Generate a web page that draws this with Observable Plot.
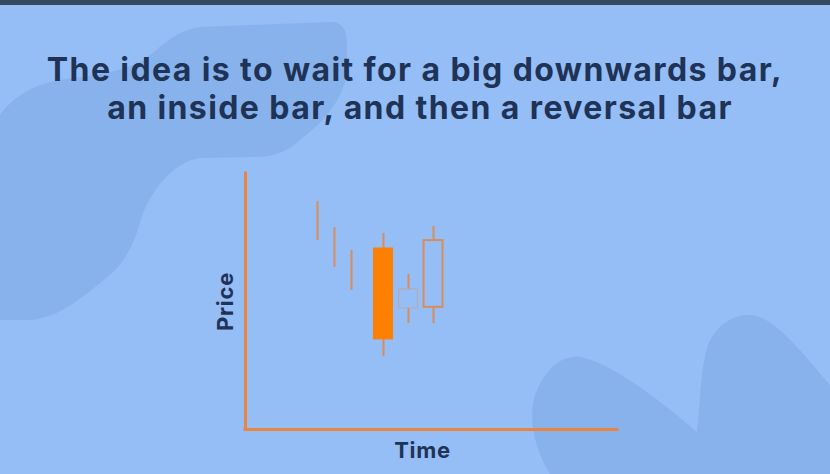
<!DOCTYPE html>
<html>
<head>
<meta charset="utf-8">
<script src="https://cdn.jsdelivr.net/npm/d3@7"></script>
<script src="https://cdn.jsdelivr.net/npm/@observablehq/plot@0.6"></script>
<style>
  html, body { margin: 0; padding: 0; }
  body { width: 830px; height: 474px; overflow: hidden; background: #95bdf6; font-family: Inter, Lato, sans-serif; }
  #stage { position: relative; width: 830px; height: 474px; }
  #bg { position: absolute; left: 0; top: 0; }
  #title { position: absolute; left: 0; top: 51px; width: 830px; text-align: center; color: #1e3356;
           font-weight: 700; font-size: 32px; line-height: 38px; letter-spacing: 1.4px; }
  #title .l2 { position: relative; left: 5px; }
  #chart { position: absolute; left: 0; top: 160px; }
</style>
</head>
<body>
<div id="stage">
  <svg id="bg" width="830" height="474">
    <rect x="0" y="0" width="830" height="5" fill="#34495b"/>
    <path fill="#88b2ec" d="M0,115 C10,100 30,85 60,80 C85,76 115,74 140,62 C160,50 170,32 200,27 L330,22 C343,22 347,30 347,45 L347,70 C345,100 320,125 300,140 C290,150 275,157 255,157 L200,158 C175,162 155,185 143,213 C136,235 132,255 110,275 C85,295 60,318 30,320 L0,320 Z"/>
    <path fill="#88b2ec" d="M550,474 C535,450 528,420 535,395 C545,370 560,355 580,357 C610,362 660,400 697,432 C700,410 700,370 708,345 C718,322 735,314 752,315 C775,318 800,350 830,385 L830,474 Z"/>
  </svg>
  <div id="title">The idea is to wait for a big downwards bar,<br><span class="l2">an inside bar, and then a reversal bar</span></div>
  <div id="chart"></div>
</div>
<script>
// Candles (time index and prices on a 0-100 scale)
const times  = [4.26, 5.26, 6.27, 8.16, 9.64, 11.12];
const highs  = [89.1, 78.9, 69.9, 76.6, 60.5, 79.3];
const lows   = [73.8, 63.3, 54.3, 28.5, 41.4, 41.4];
const opens  = [null, null, null, 70.7, 54.7, 47.7];
const closes = [null, null, null, 35.2, 47.3, 73.8];
const kinds  = ["line", "line", "line", "big", "inside", "reversal"];

const xLabel = "Time";
const yLabel = "Price";

const candles = times.map((t, i) => ({t, high: highs[i], low: lows[i], open: opens[i], close: closes[i], kind: kinds[i]}));
const bodies = candles.filter(d => d.open != null);

const HALF = 0.56;
const BG = "#95bdf6";
const AXIS = "#e8853e";
const WICK = "#d98d5c";

const chart = Plot.plot({
  width: 830,
  height: 314,
  marginLeft: 245,
  marginRight: 213,
  marginTop: 13,
  marginBottom: 45,
  style: {background: "transparent", fontFamily: "Inter, Lato, sans-serif", overflow: "visible", letterSpacing: "0.7px"},
  x: {domain: [0, 22], axis: null},
  y: {domain: [0, 100], axis: null},
  marks: [
    Plot.ruleY([0], {stroke: AXIS, strokeWidth: 3, strokeLinecap: "square"}),
    Plot.ruleX([0], {stroke: AXIS, strokeWidth: 3, strokeLinecap: "square"}),
    Plot.ruleX(candles, {x: "t", y1: "low", y2: "high", stroke: WICK, strokeWidth: 2}),
    Plot.rect(bodies.filter(d => d.kind === "big"), {
      x1: d => d.t - HALF, x2: d => d.t + HALF, y1: "open", y2: "close",
      fill: "#ff7f00", stroke: "#ff7f00", strokeWidth: 1
    }),
    Plot.rect(bodies.filter(d => d.kind === "inside"), {
      x1: d => d.t - HALF, x2: d => d.t + HALF, y1: "open", y2: "close",
      fill: BG, stroke: "#b9a8a8", strokeWidth: 1
    }),
    Plot.rect(bodies.filter(d => d.kind === "reversal"), {
      x1: d => d.t - HALF, x2: d => d.t + HALF, y1: "open", y2: "close",
      fill: BG, stroke: WICK, strokeWidth: 2
    }),
    Plot.text([yLabel], {frameAnchor: "left", dx: -20, rotate: -90, textAnchor: "middle", fontSize: 22, fontWeight: 700, fill: "#1e3356", lineAnchor: "middle"}),
    Plot.text([xLabel], {frameAnchor: "bottom", dx: -9, dy: 21, textAnchor: "middle", fontSize: 22, fontWeight: 700, fill: "#1e3356", lineAnchor: "middle"})
  ]
});
document.getElementById("chart").appendChild(chart);
</script>
</body>
</html>
